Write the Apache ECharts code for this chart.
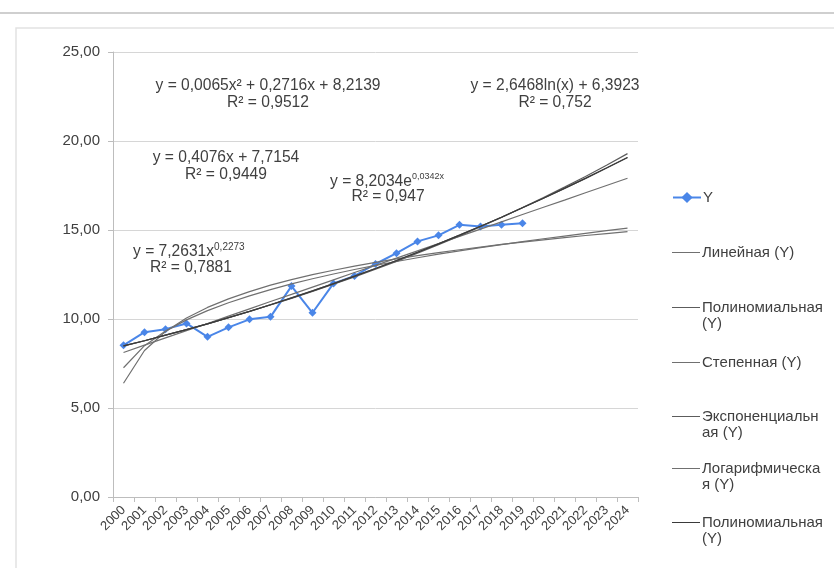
<!DOCTYPE html>
<html>
<head>
<meta charset="utf-8">
<script src="https://cdn.jsdelivr.net/npm/echarts@6/dist/echarts.min.js"></script>
<style>html,body{margin:0;padding:0;background:#fff;}#c{width:834px;height:568px;}</style>
</head>
<body>
<div id="c"></div>
<script>
// categories
var years = ['2000','2001','2002','2003','2004','2005','2006','2007','2008','2009','2010','2011','2012','2013','2014','2015','2016','2017','2018','2019','2020','2021','2022','2023','2024'];
// observed series
var yValues = [8.52, 9.26, 9.43, 9.75, 9.00, 9.53, 9.98, 10.12, 11.85, 10.35, 12.00, 12.42, 13.09, 13.70, 14.36, 14.70, 15.29, 15.19, 15.29, 15.38];
// trend lines (values of the equations printed on the chart, x = 1..25)
var linearTrend = [8.12, 8.53, 8.94, 9.35, 9.75, 10.16, 10.57, 10.98, 11.38, 11.79, 12.20, 12.61, 13.01, 13.42, 13.83, 14.24, 14.64, 15.05, 15.46, 15.87, 16.28, 16.68, 17.09, 17.50, 17.91];
var polyTrend = [8.49, 8.78, 9.09, 9.40, 9.73, 10.08, 10.43, 10.80, 11.19, 11.58, 11.99, 12.41, 12.84, 13.29, 13.75, 14.22, 14.71, 15.21, 15.72, 16.25, 16.78, 17.34, 17.90, 18.48, 19.07];
var powerTrend = [7.26, 8.50, 9.32, 9.95, 10.47, 10.91, 11.30, 11.65, 11.97, 12.26, 12.53, 12.78, 13.01, 13.23, 13.44, 13.64, 13.83, 14.01, 14.18, 14.35, 14.51, 14.66, 14.81, 14.96, 15.10];
var expTrend = [8.49, 8.78, 9.09, 9.41, 9.73, 10.07, 10.42, 10.79, 11.16, 11.55, 11.95, 12.37, 12.80, 13.24, 13.70, 14.18, 14.67, 15.18, 15.71, 16.26, 16.82, 17.41, 18.01, 18.64, 19.29];
var logTrend = [6.39, 8.23, 9.30, 10.06, 10.65, 11.13, 11.54, 11.90, 12.21, 12.49, 12.74, 12.97, 13.18, 13.38, 13.56, 13.73, 13.89, 14.04, 14.19, 14.32, 14.45, 14.57, 14.69, 14.80, 14.91];
var poly2Trend = [8.49, 8.78, 9.09, 9.40, 9.73, 10.08, 10.43, 10.80, 11.19, 11.58, 11.99, 12.41, 12.84, 13.29, 13.75, 14.22, 14.71, 15.21, 15.72, 16.25, 16.78, 17.34, 17.90, 18.48, 19.07];
// y-axis ticks
var yTicks = [0, 5, 10, 15, 20, 25];

var FONT = '"Liberation Sans", Arial, sans-serif';
var TXT = '#404040';
var EQ = 15.6;

var seriesNames = ['Y', 'Линейная (Y)', 'Полиномиальная (Y)', 'Степенная (Y)', 'Экспоненциальная (Y)', 'Логарифмическая (Y)', 'Полиномиальная (Y) 2'];
var legendFirst = ['Y', 'Линейная (Y)', 'Полиномиальная', 'Степенная (Y)', 'Экспоненциальн', 'Логарифмическа', 'Полиномиальная'];
var legendSecond = ['', '', '(Y)', '', 'ая (Y)', 'я (Y)', '(Y)'];
var legendY = [197, 252, 307, 362, 416, 468, 522];

var chart = echarts.init(document.getElementById('c'), null, {renderer: 'canvas'});

function trend(name, data, color, width) {
  return {
    name: name, type: 'line', data: data, symbol: 'none', showSymbol: false, smooth: false,
    lineStyle: {color: color, width: width}, itemStyle: {color: color}, z: 3, silent: true
  };
}

// plain line icon (tiny corner specks keep the 28x14 box so it is not stretched)
var LINE_ICON = 'path://M0,6.4L28,6.4L28,7.6L0,7.6Z M0,0L0.01,0L0,0.01Z M28,14L27.99,14L28,13.99Z';

var legends = seriesNames.map(function (n, i) {
  var item = i === 0 ? {name: n} : {name: n, icon: LINE_ICON};
  return {
    data: [item], left: 672, top: legendY[i] - 7, padding: 0, itemGap: 0,
    itemWidth: 28, itemHeight: 14, selectedMode: false,
    formatter: function () { return legendFirst[i]; },
    textStyle: {fontSize: 15, color: TXT, fontFamily: FONT, padding: [0, 0, 0, -3]}
  };
});

var graphics = [
  {type: 'line', shape: {x1: 0, y1: 13, x2: 834, y2: 13}, style: {stroke: '#cfcfcf', lineWidth: 2}, silent: true},
  {type: 'rect', shape: {x: 16, y: 28, width: 830, height: 560}, style: {fill: 'none', stroke: '#e2e2e2', lineWidth: 1.5}, silent: true}
];
function addText(t, x, y, size, align) {
  graphics.push({type: 'text', x: x, y: y, silent: true,
    style: {text: t, font: size + 'px ' + FONT, fill: TXT, textAlign: align || 'center', textVerticalAlign: 'middle'}});
}
function addSup(base, sup, x, y, supSize) {
  graphics.push({type: 'text', x: x, y: y, silent: true,
    style: {text: '{a|' + base + '}{b|' + sup + '}', fill: TXT, textAlign: 'left', textVerticalAlign: 'middle',
      rich: {
        a: {fontSize: EQ, fontFamily: FONT, fill: TXT, lineHeight: 18, verticalAlign: 'bottom'},
        b: {fontSize: supSize, fontFamily: FONT, fill: TXT, lineHeight: 11, verticalAlign: 'top'}
      }}});
}
addText('y = 0,0065x² + 0,2716x + 8,2139', 268, 86, EQ);
addText('R² = 0,9512', 268, 103, EQ);
addText('y = 2,6468ln(x) + 6,3923', 555, 86, EQ);
addText('R² = 0,752', 555, 103, EQ);
addText('y = 0,4076x + 7,7154', 226, 158, EQ);
addText('R² = 0,9449', 226, 175, EQ);
addSup('y = 8,2034e', '0,0342x', 330, 181, 9);
addText('R² = 0,947', 388, 197, EQ);
addSup('y = 7,2631x', '0,2273', 133, 251, 10);
addText('R² = 0,7881', 191, 268, EQ);
legendSecond.forEach(function (t, i) {
  if (t) addText(t, 702, legendY[i] + 17, 15, 'left');
});

var option = {
  backgroundColor: '#ffffff',
  animation: false,
  textStyle: {fontFamily: FONT},
  grid: {left: 113, right: 196, top: 52, bottom: 71, containLabel: false},
  legend: legends,
  xAxis: {
    type: 'category', data: years, boundaryGap: true,
    axisLine: {lineStyle: {color: '#bdbdbd', width: 1}},
    axisTick: {show: true, alignWithLabel: false, length: 5, lineStyle: {color: '#bdbdbd'}},
    axisLabel: {rotate: 45, fontSize: 13, color: TXT, fontFamily: FONT, interval: 0, margin: 11}
  },
  yAxis: {
    type: 'value', min: yTicks[0], max: yTicks[yTicks.length - 1], interval: 5,
    axisLine: {show: true, lineStyle: {color: '#bdbdbd', width: 1}},
    axisTick: {show: true, length: 5, lineStyle: {color: '#bdbdbd'}},
    splitLine: {lineStyle: {color: '#d6d6d6', width: 1}},
    axisLabel: {fontSize: 15, color: TXT, fontFamily: FONT, margin: 13,
      formatter: function (v) { return v.toFixed(2).replace('.', ','); }}
  },
  series: [
    {name: seriesNames[0], type: 'line', data: yValues, symbol: 'diamond', symbolSize: 8, showSymbol: true,
      lineStyle: {color: '#4a86e8', width: 2}, itemStyle: {color: '#4a86e8'}, z: 2},
    trend(seriesNames[1], linearTrend, '#707070', 1.2),
    trend(seriesNames[2], polyTrend, '#5c5c5c', 1.2),
    trend(seriesNames[3], powerTrend, '#707070', 1.2),
    trend(seriesNames[4], expTrend, '#5c5c5c', 1.2),
    trend(seriesNames[5], logTrend, '#707070', 1.2),
    trend(seriesNames[6], poly2Trend, '#3a3a3a', 1.2)
  ],
  graphic: graphics
};
chart.setOption(option);
</script>
</body>
</html>
